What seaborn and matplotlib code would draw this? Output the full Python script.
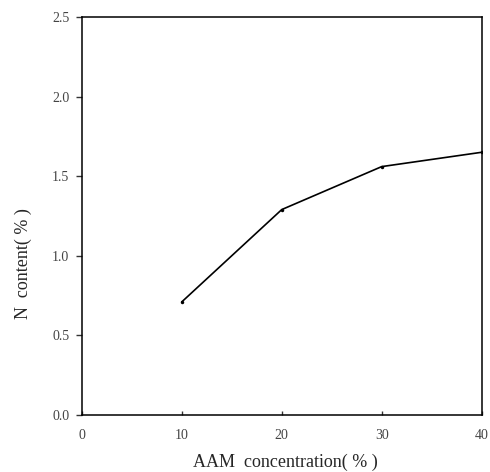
import seaborn as sns
import matplotlib.pyplot as plt
import pandas as pd

aam_conc = [10, 20, 30, 40]
n_content = [0.71, 1.29, 1.56, 1.65]
x_ticks = [0, 10, 20, 30, 40]
y_ticks = [0.0, 0.5, 1.0, 1.5, 2.0, 2.5]

df = pd.DataFrame({'AAM': aam_conc, 'N': n_content})

sns.set_style('ticks')
plt.rcParams['font.family'] = ['Liberation Serif', 'DejaVu Serif']

fig = plt.figure(figsize=(4.9, 4.72), dpi=100)
ax = fig.add_axes([0.167, 0.121, 0.816, 0.843])
sns.lineplot(data=df, x='AAM', y='N', color='black', linewidth=1.2,
             marker='o', markersize=2.5, markeredgewidth=0, ax=ax)

ax.set_xlim(0, 40)
ax.set_ylim(0, 2.5)
ax.set_xticks(x_ticks)
ax.set_xticklabels([str(t) for t in x_ticks])
ax.set_yticks(y_ticks)
ax.set_yticklabels([f'{t:.1f}' for t in y_ticks])
ax.tick_params(axis='both', labelsize=10, colors='#333333', labelcolor='#444444', width=1)
ax.tick_params(axis='x', direction='in', length=3, pad=10)
ax.tick_params(axis='y', direction='out', length=4, pad=5)
for s in ax.spines.values():
    s.set_linewidth(1.1)
    s.set_color('black')

ax.set_xlabel('AAM  concentration( % )', fontsize=13)
ax.set_ylabel('N  content( % )', fontsize=13)
ax.xaxis.set_label_coords(0.51, -0.098)
ax.yaxis.set_label_coords(-0.125, 0.38)

plt.savefig('out.png', dpi=100)
